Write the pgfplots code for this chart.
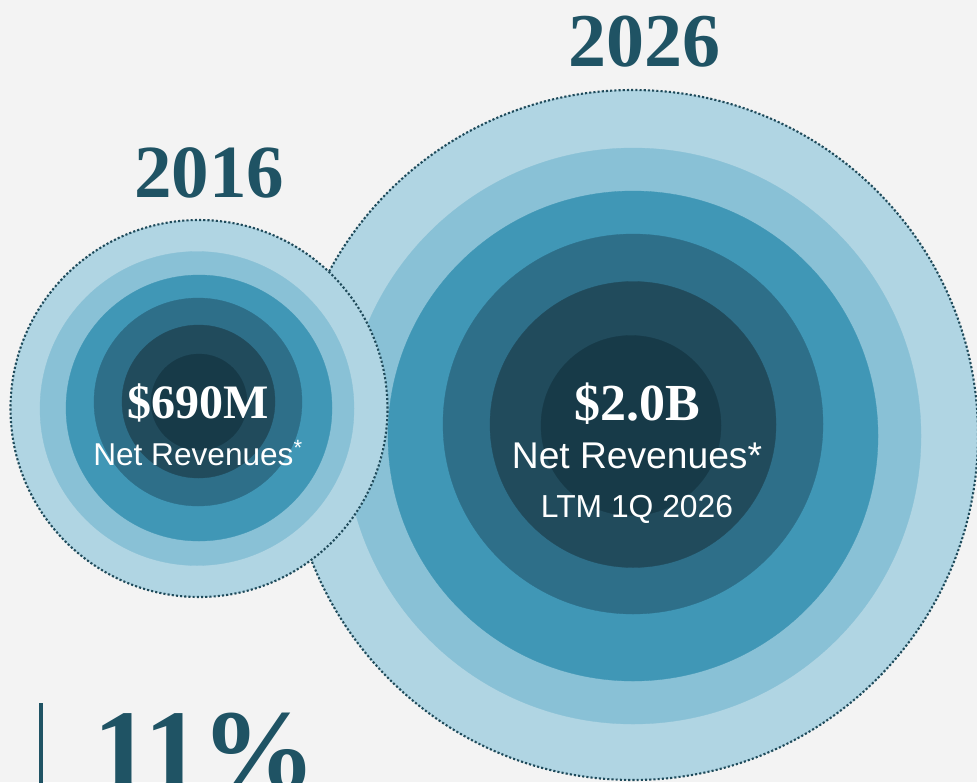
\documentclass[border=0pt]{standalone}
\usepackage{pgfplots}
\pgfplotsset{compat=1.18}
\usepackage{pgfplotstable}
\usepackage{fontspec}
\setmainfont{Liberation Serif}
\newfontfamily\sansf{Liberation Sans}
\definecolor{bgc}{HTML}{F3F3F3}
\definecolor{titlec}{HTML}{1F5364}
\definecolor{dotc}{HTML}{1F4A5A}
\definecolor{ring0}{RGB}{176,213,227}
\definecolor{ring1}{RGB}{137,193,214}
\definecolor{ring2}{RGB}{64,151,182}
\definecolor{ring3}{RGB}{46,111,137}
\definecolor{ring4}{RGB}{33,75,92}
\definecolor{ring5}{RGB}{23,58,72}

% concentric rings: centre (x,y) in px, radius r in px, colour index c
\pgfplotstableread{
x y r c
633 435 345 0
633 436 288 1
633 436 245 2
633 424 190 3
633 424.5 143 4
631 425.5 90 5
}\bigrings
\pgfplotstableread{
x y r c
199 408.5 188.5 0
197 408.5 157 1
199 408 133 2
198 402 104 3
198.5 401.5 76.5 4
199 402 48 5
}\smallrings

\pgfplotsset{
  ringfill/.style={scatter, only marks, mark=*,
    visualization depends on={\thisrow{r} \as \rad},
    visualization depends on={\thisrow{c} \as \cidx},
    scatter/@pre marker code/.code={%
      \pgfmathtruncatemacro\ci{\cidx}%
      \edef\tmpscope{\noexpand\begin{scope}[fill=ring\ci, draw=ring\ci, line width=0.3pt, mark size=\rad]}%
      \tmpscope},
    scatter/@post marker code/.code={\end{scope}}},
  ringline/.style={scatter, only marks, mark=o,
    visualization depends on={\thisrow{r} \as \rad},
    scatter/@pre marker code/.code={%
      \edef\tmpscope{\noexpand\begin{scope}[draw=dotc, line width=2.1pt, dash pattern=on 2.1pt off 2.1pt, mark size=\rad]}%
      \tmpscope},
    scatter/@post marker code/.code={\end{scope}},
    skip coords between index={1}{6}},
}

\begin{document}
\begin{tikzpicture}
\begin{axis}[
  x=1pt, y=1pt, y dir=reverse,
  xmin=0, xmax=977, ymin=0, ymax=782,
  hide axis, clip marker paths=true,
]
\fill[bgc] (rel axis cs:0,0) rectangle (rel axis cs:1,1);
\coordinate (sw) at (rel axis cs:0,0);
\coordinate (ne) at (rel axis cs:1,1);

\addplot[ringfill] table[x=x, y=y] {\bigrings};
\addplot[ringline] table[x=x, y=y] {\bigrings};
\addplot[ringfill] table[x=x, y=y] {\smallrings};
\addplot[ringline] table[x=x, y=y] {\smallrings};

% titles
\node[anchor=base, inner sep=0, text=titlec, font={\bfseries\fontsize{75}{75}\selectfont}] at (axis cs:209,197) {2016};
\node[anchor=base, inner sep=0, text=titlec, font={\bfseries\fontsize{76}{76}\selectfont}] at (axis cs:644,66) {2026};

% small circle text
\node[anchor=base, inner sep=0, text=white, font={\bfseries\fontsize{48}{48}\selectfont}] at (axis cs:198,418) {\$690M};
\node[anchor=base, inner sep=0, text=white, font={\sansf\fontsize{31.6}{32}\selectfont}] at (axis cs:198,465) {Net Revenues\textsuperscript{*}};

% big circle text
\node[anchor=base, inner sep=0, text=white, font={\bfseries\fontsize{52}{52}\selectfont}] at (axis cs:637,420) {\$2.0B};
\node[anchor=base, inner sep=0, text=white, font={\sansf\fontsize{37.2}{38}\selectfont}] at (axis cs:637,468) {Net Revenues*};
\node[anchor=base, inner sep=0, text=white, font={\sansf\fontsize{31.8}{32}\selectfont}] at (axis cs:637,517) {LTM 1Q 2026};

% bottom-left figure
\fill[titlec] (axis cs:38.5,703) rectangle (axis cs:42.5,800);
\node[anchor=base west, inner sep=0, text=titlec, font={\bfseries\fontsize{115}{115}\selectfont}] at (axis cs:93,789) {11\%};
\end{axis}
\pgfresetboundingbox
\useasboundingbox (sw) rectangle (ne);
\end{tikzpicture}
\end{document}
